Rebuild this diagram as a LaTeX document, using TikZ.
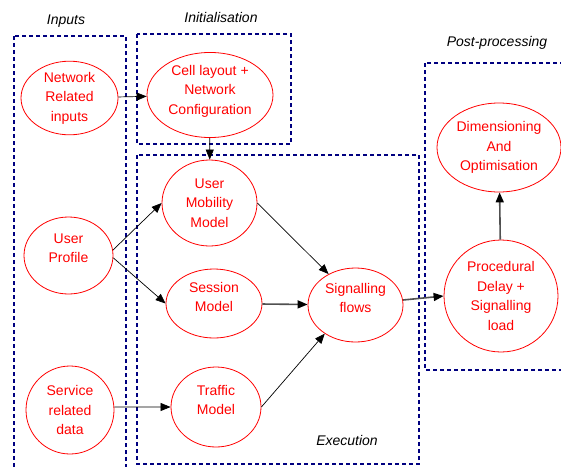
\documentclass[tikz,border=0pt]{standalone}
\usepackage{fontspec}
\setmainfont{Liberation Sans}
\usetikzlibrary{shapes.geometric,arrows.meta}

\definecolor{boxblue}{RGB}{0,0,128}
\definecolor{nodered}{RGB}{255,0,0}
\definecolor{heavygrey}{RGB}{80,80,80}

\tikzset{
  proc/.style={ellipse, draw=nodered, line width=0.8pt, text=nodered, inner sep=0pt,
    align=center, font=\fontsize{14}{19.5}\selectfont},
  lift/.style={text depth=#1},
  stage/.style={draw=boxblue, line width=1.3pt, dash pattern=on 4pt off 3pt},
  stagelabel/.style={font=\fontsize{14}{16}\selectfont\itshape, text=black},
  flow/.style={draw=black, line width=0.7pt, -{Triangle[length=10pt,width=8pt]}},
  mainflow/.style={draw=heavygrey, line width=1.6pt, -{Triangle[length=10pt,width=8pt,color=black]}},
}

\begin{document}
\begin{tikzpicture}[x=1pt,y=-1pt]
\useasboundingbox (0,0) rectangle (561,466);
\clip (0,0) rectangle (561,466);

% stage frames
\draw[stage] (14,36) rectangle (126,490);
\draw[stage] (137,34) rectangle (291,144);
\draw[stage] (137,155) rectangle (419,464);
\draw[stage] (425,63) rectangle (590,370);

% stage titles
\node[stagelabel] (tin)  at (66,21)  {Inputs};
\node[stagelabel] (tini) at (221,17) {Initialisation};
\node[stagelabel] (tpp)  at (497,43) {Post-processing};
\node[stagelabel] (tex)  at (347,440) {Execution};

% processes
\node[proc, minimum width=97pt, minimum height=69pt] (net) at (69.5,98) {Network\\Related\\inputs};
\node[proc, lift=11pt, minimum width=126pt, minimum height=81pt] (cell) at (210,95) {Cell layout +\\Network\\Configuration};
\node[proc, lift=15pt, minimum width=89pt, minimum height=77pt] (up) at (68.5,255.5) {User\\Profile};
\node[proc, minimum width=88pt, minimum height=88pt] (sd) at (70,410) {Service\\related\\data};
\node[proc, minimum width=95pt, minimum height=86pt] (um) at (209.5,203) {User\\Mobility\\Model};
\node[proc, lift=13pt, minimum width=96pt, minimum height=69pt] (sm) at (214,303.5) {Session\\Model};
\node[proc, lift=14pt, minimum width=90pt, minimum height=80pt] (tm) at (216,407) {Traffic\\Model};
\node[proc, lift=14pt, minimum width=95pt, minimum height=74pt] (sf) at (355.5,305) {Signalling\\flows};
\node[proc, minimum width=114pt, minimum height=112pt] (pd) at (501,296) {Procedural\\Delay +\\Signalling\\load};
\node[proc, minimum width=124pt, minimum height=89pt] (dim) at (499,147.5) {Dimensioning\\And\\Optimisation};

% connectors
\draw[flow] (net) -- (cell);
\draw[flow] (cell) -- (um);
\draw[flow] (up.7) -- (um.west);
\draw[flow] (up.-3) -- (sm.west);
\draw[flow] (sd.4) -- (tm.west);
\draw[flow] (um.east) -- (sf.131);
\draw[mainflow] (sm) -- (sf);
\draw[flow] (tm.east) -- (sf.223);
\draw[mainflow] (sf.6) -- (pd.west);
\draw[mainflow] (pd) -- (dim);
\end{tikzpicture}
\end{document}
